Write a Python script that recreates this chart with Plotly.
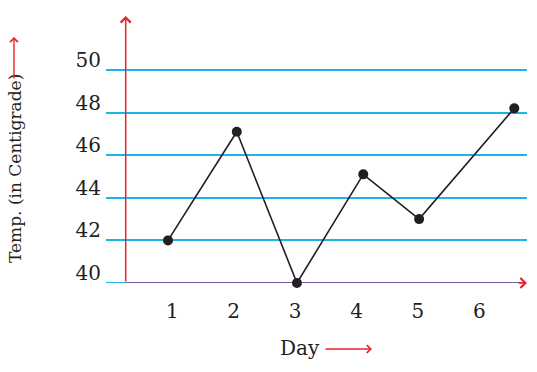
import plotly.graph_objects as go

# Data
day_labels = ["1", "2", "3", "4", "5", "6"]
day_ticks = [1, 2, 3, 4, 5, 6]
point_day_pos = [0.93, 2.05, 3.03, 4.11, 5.02, 6.57]   # horizontal positions of the drawn points
temps = [42, 47.1, 40, 45.1, 43, 48.2]
temp_ticks = [40, 42, 44, 46, 48, 50]
temp_labels = ["40", "42", "44", "46", "48", "50"]

RED = "#E8232B"
CYAN = "#1BB4E6"
PURPLE = "#7A5C9E"
INK = "#231F20"
FONT = "DejaVu Serif"

W, H = 537, 372
ML, MR, MT, MB = 106, 10, 14, 89
XR = [-0.08, 6.777]
YR = [40, 52.629]
y_axis_x = 0.241

fig = go.Figure()
fig.add_trace(go.Scatter(
    x=point_day_pos, y=temps, mode="lines+markers",
    line=dict(color=INK, width=1.6),
    marker=dict(color=INK, size=10),
    showlegend=False, cliponaxis=False,
))

fig.update_layout(
    width=W, height=H,
    margin=dict(l=ML, r=MR, t=MT, b=MB),
    paper_bgcolor="white", plot_bgcolor="white",
    font=dict(family=FONT, color=INK, size=20),
    xaxis=dict(range=XR, tickmode="array", tickvals=day_ticks, ticktext=day_labels,
               showgrid=False, zeroline=False, showline=False, ticks="",
               ticklabelstandoff=14, tickfont=dict(size=20, family=FONT, color=INK)),
    yaxis=dict(range=YR, tickmode="array", tickvals=temp_ticks, ticktext=temp_labels,
               showgrid=True, gridcolor=CYAN, gridwidth=2, zeroline=False, showline=False,
               ticks="", ticklabelshift=-10, ticklabelstandoff=4,
               tickfont=dict(size=20, family=FONT, color=INK)),
    shapes=[
        dict(type="line", xref="x", yref="y", x0=XR[0], x1=y_axis_x, y0=40, y1=40,
             line=dict(color=CYAN, width=2), layer="between"),
        dict(type="line", xref="x", yref="y", x0=y_axis_x, x1=XR[1] - 0.02, y0=40, y1=40,
             line=dict(color=PURPLE, width=2), layer="between"),
    ],
    annotations=[
        # y axis line with arrow
        dict(x=y_axis_x, y=52.535, xref="x", yref="y", ax=y_axis_x, ay=40,
             axref="x", ayref="y", showarrow=True, arrowhead=4, arrowsize=1.3,
             arrowwidth=1.5, arrowcolor=RED, text=""),
        # x axis arrowhead
        dict(x=XR[1], y=40, xref="x", yref="y", ax=-10, ay=0,
             showarrow=True, arrowhead=4, arrowsize=1.3, arrowwidth=1.5,
             arrowcolor=RED, text=""),
        # y title
        dict(x=(15 - ML) / (W - ML - MR), y=(283 - 169) / (H - MT - MB), xref="paper", yref="paper",
             text="Temp. (in Centigrade)", textangle=-90, showarrow=False,
             font=dict(size=17, family=FONT, color=INK), xanchor="center", yanchor="middle"),
        dict(x=(14 - ML) / (W - ML - MR), y=(283 - 37) / (H - MT - MB), xref="paper", yref="paper",
             ax=0, ay=43, showarrow=True, arrowhead=4, arrowsize=1.1, arrowwidth=1.4,
             arrowcolor=RED, text=""),
        # x title
        dict(x=(300 - ML) / (W - ML - MR), y=(283 - 348) / (H - MT - MB), xref="paper", yref="paper",
             text="Day", showarrow=False, font=dict(size=20, family=FONT, color=INK),
             xanchor="center", yanchor="middle"),
        dict(x=(372 - ML) / (W - ML - MR), y=(283 - 349) / (H - MT - MB), xref="paper", yref="paper",
             ax=-48, ay=0, showarrow=True, arrowhead=4, arrowsize=1.1, arrowwidth=1.4,
             arrowcolor=RED, text=""),
    ],
)

fig.write_html("out.html")
